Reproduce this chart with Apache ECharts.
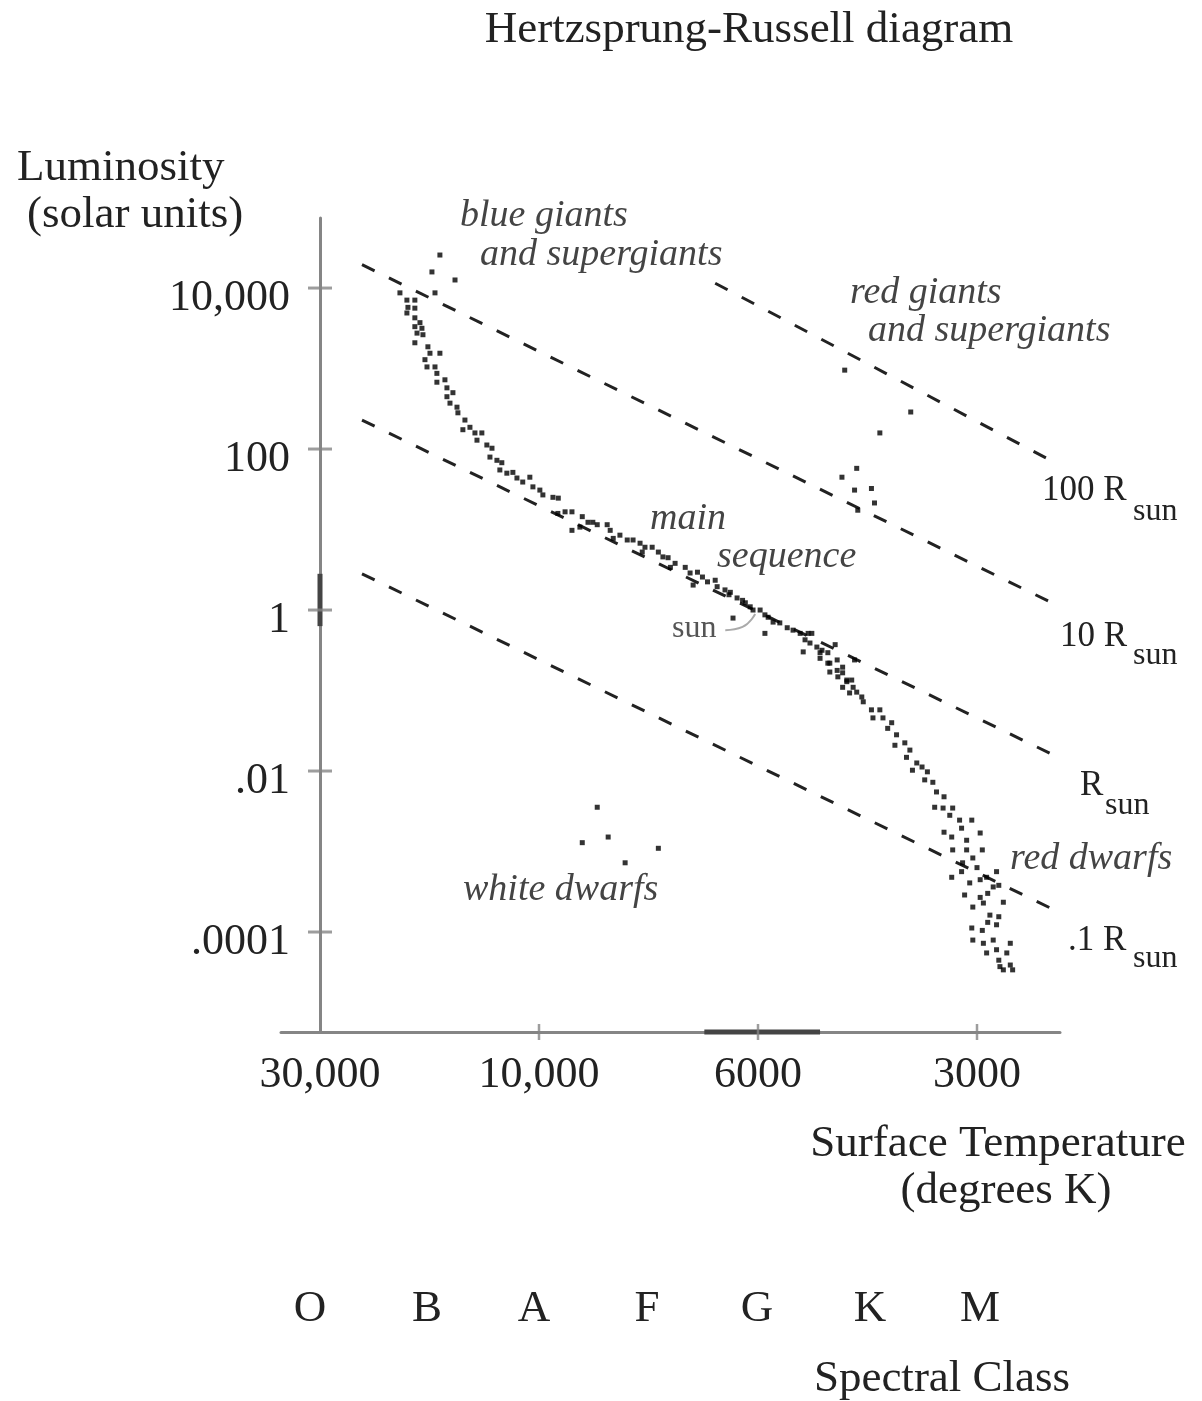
<!DOCTYPE html>
<html><head><meta charset="utf-8">
<script src="https://cdn.jsdelivr.net/npm/echarts@6/dist/echarts.min.js"></script>
<style>html,body{margin:0;padding:0;background:#fff}#c{width:1202px;height:1401px}</style>
</head><body><div id="c"></div>
<script>
// ---- axis ticks ----
const xTickTemps = [30000, 10000, 6000, 3000];
const xTickLabels = ['30,000', '10,000', '6000', '3000'];
const yTickLogLum = [4, 2, 0, -2, -4];
const yTickLabels = ['10,000', '100', '1', '.01', '.0001'];
const spectralClasses = ['O', 'B', 'A', 'F', 'G', 'K', 'M'];

// ---- stars: surface temperature (K) and log10 luminosity (solar units) ----
const mainSeqTemp = [
20090,19400,18640,19300,19400,18640,18640,18170,18640,17990,18440,17900,18640,17460,17280,17720,17540,16850,16440,16690,
16690,16030,15870,15870,15400,15630,15090,15020,14500,14650,14140,13790,13650,13320,12990,12660,12790,12350,12050,12170,
11750,11400,11170,10850,10470,10310,9980,9910,9680,9560,
9570,9410,9260,9260,9040,9090,8920,8820,8730,8530,8470,8410,8280,8140,8030,7900,7860,7810,7680,7570,
7490,7400,7360,7280,7110,7030,6910,6980,6830,6750,6630,6600,6480,6420,6400,6300,6220,6180,6110,6070,
5960,5870,5810,5720,5600,5470,5370,5250,5120,5170,5090,4980,4930,4810,4700,4780,4670,4590,4530,4440,4420,6360,5870,
5060,5200,4900,4930,4810,4670,4590,4780,4660,4530,4460,4590,4390,4490,4320,4300,4190,4080,4170,4040,
3930,3980,3870,3890,3770,3710,3750,3630,3680,3570,3510,3540,3450,3410,3330,3430,3340,3240,3270,3170,
3050,2970,3150,3250,3100,3330,3240,3100,3040,2950,3140,3000,3250,3150,3070,2970,2910,2820,2850,2800,
3120,2970,2900,2760,3040,2940,2880,2800,3050,2950,2900,2820,3040,2940,2850,2700,2910,2820,2730,2700,
2790,2760,2680,2800];
const mainSeqLogLum = [
3.94,3.85,3.85,3.76,3.69,3.75,3.63,3.57,3.52,3.50,3.44,3.42,3.32,3.27,3.19,3.11,3.02,3.02,3.19,2.94,
2.83,2.86,2.76,2.65,2.70,2.57,2.52,2.45,2.36,2.24,2.27,2.20,2.11,2.20,2.05,2.01,1.90,1.86,1.83,1.74,
1.70,1.71,1.64,1.59,1.65,1.53,1.49,1.43,1.40,1.39,
1.20,1.22,1.22,0.99,1.16,1.03,1.09,1.09,1.06,1.06,0.99,0.89,0.93,0.87,0.87,0.83,0.72,0.78,0.78,0.72,
0.66,0.65,0.53,0.58,0.53,0.46,0.47,0.31,0.41,0.35,0.37,0.29,0.25,0.19,0.22,0.15,0.12,0.09,0.04,0.00,
0.00,-0.06,-0.09,-0.15,-0.16,-0.22,-0.25,-0.29,-0.29,-0.37,-0.41,-0.46,-0.53,-0.53,-0.43,-0.66,-0.75,-0.78,-0.87,-0.96,-0.62,-0.10,-0.29,
-0.29,-0.52,-0.50,-0.60,-0.66,-0.62,-0.71,-0.77,-0.83,-0.89,-0.87,-0.96,-1.02,-1.03,-1.08,-1.14,-1.24,-1.24,-1.34,-1.34,
-1.40,-1.47,-1.55,-1.68,-1.65,-1.74,-1.83,-1.90,-1.99,-1.95,-2.01,-2.11,-2.14,-2.26,-2.32,-2.45,-2.46,-2.46,-2.55,-2.61,
-2.61,-2.77,-2.71,-2.82,-2.86,-2.76,-2.98,-2.98,-3.08,-2.98,-3.14,-3.20,-3.32,-3.25,-3.39,-3.35,-3.32,-3.25,-3.44,-3.42,
-3.54,-3.57,-3.52,-3.63,-3.69,-3.64,-3.79,-3.81,-3.95,-3.98,-3.88,-3.91,-4.10,-4.14,-4.10,-4.14,-4.26,-4.22,-4.26,-4.41,
-4.43,-4.47,-4.47,-4.35];
const blueGiantTemp = [16440, 17110, 15240, 16850];
const blueGiantLogLum = [4.41, 4.20, 4.10, 3.94];
const redGiantTemp = [4560, 3700, 4080, 4390, 4600, 4420, 4190, 4150, 4375];
const redGiantLogLum = [2.98, 2.46, 2.20, 1.76, 1.65, 1.49, 1.51, 1.33, 1.24];
const whiteDwarfTemp = [8730, 9040, 8510, 8180, 7570];
const whiteDwarfLogLum = [-2.45, -2.89, -2.82, -3.14, -2.96];

// ---- lines of constant radius ----
const radiusNames = ['100 R', '10 R', 'R', '.1 R'];
const radiusLineTemp = [[6630, 2343], [24300, 2343], [24300, 2307], [24300, 2307]];
const radiusLineLogLum = [[4.06, 1.83], [4.29, 0.07], [2.36, -1.84], [0.45, -3.76]];

// sun marker band on the axes and pointer from the "sun" label
const sunBandTemp = [6800, 4930];
const sunBandLogLum = [0.45, -0.20];
const sunPointerTemp = [6476, 6220, 6040];
const sunPointerLogLum = [-0.25, -0.21, -0.05];

const LG = Math.log10;
function tPos(T) {
  if (T >= 10000) return (LG(30000) - LG(T)) / (LG(30000) - LG(10000));
  if (T >= 6000) return 1 + (LG(10000) - LG(T)) / (LG(10000) - LG(6000));
  return 2 + (LG(6000) - LG(T)) / (LG(6000) - LG(3000));
}
const X_MIN = -0.1781, X_MAX = 3.379, Y_MIN = -5.242, Y_MAX = 4.87;
const pts = (ts, ls) => ts.map((t, i) => [tPos(t), ls[i]]);

const SERIF = '"Liberation Serif", "Times New Roman", serif';
const AX = '#858585';

const starStyle = { type: 'scatter', symbol: 'rect', symbolSize: 5, itemStyle: { color: '#000' }, z: 5, silent: true };

const series = [];
radiusLineTemp.forEach((ts, i) => {
  series.push({
    type: 'line', data: pts(ts, radiusLineLogLum[i]), symbol: 'none', silent: true, clip: false,
    lineStyle: { color: '#222', width: 3, type: [14, 16] }, z: 3
  });
});
series.push(Object.assign({}, starStyle, { data: pts(mainSeqTemp, mainSeqLogLum) }));
series.push(Object.assign({}, starStyle, { data: pts(blueGiantTemp, blueGiantLogLum) }));
series.push(Object.assign({}, starStyle, { data: pts(redGiantTemp, redGiantLogLum) }));
series.push(Object.assign({}, starStyle, { data: pts(whiteDwarfTemp, whiteDwarfLogLum) }));
// sun pointer
series.push({ type: 'line', smooth: true, symbol: 'none', silent: true, data: pts(sunPointerTemp, sunPointerLogLum),
  lineStyle: { color: '#aaa', width: 2 }, z: 4 });
// thick sun bands on axes
series.push({ type: 'line', symbol: 'none', silent: true, clip: false,
  data: [[0, sunBandLogLum[0]], [0, sunBandLogLum[1]]], lineStyle: { color: '#444', width: 5 }, z: 6 });
series.push({ type: 'line', symbol: 'none', silent: true, clip: false,
  data: [[tPos(sunBandTemp[0]), Y_MIN], [tPos(sunBandTemp[1]), Y_MIN]], lineStyle: { color: '#444', width: 5 }, z: 6 });
// crossing tick marks
series.push({ type: 'scatter', symbol: 'rect', symbolSize: [24, 3], silent: true, clip: false, z: 6,
  itemStyle: { color: AX }, data: yTickLogLum.map(v => [0, v]) });
series.push({ type: 'scatter', symbol: 'rect', symbolSize: [2.5, 16], silent: true, clip: false, z: 6,
  itemStyle: { color: AX }, data: xTickTemps.slice(1).map(t => [tPos(t), Y_MIN]) });

function txt(x, y, text, size, opts) {
  opts = opts || {};
  return { type: 'text', x: x, y: y, silent: true, z: 10,
    style: { text: text, fill: opts.fill || '#222', textAlign: opts.align || 'left', textVerticalAlign: 'middle',
      font: (opts.italic ? 'italic ' : '') + size + 'px ' + SERIF } };
}
const specX = [310, 427, 534, 647, 757, 870, 980];
const graphics = [
  txt(749, 30, 'Hertzsprung-Russell diagram', 45, { align: 'center' }),
  txt(17, 168, 'Luminosity', 45),
  txt(27, 215, '(solar units)', 45),
  txt(998, 1144, 'Surface Temperature', 45, { align: 'center' }),
  txt(1006, 1191, '(degrees K)', 45, { align: 'center' }),
  txt(942, 1379, 'Spectral Class', 45, { align: 'center' }),
  txt(460, 216, 'blue giants', 38, { italic: true, fill: '#444' }),
  txt(480, 255, 'and supergiants', 38, { italic: true, fill: '#444' }),
  txt(850, 293, 'red giants', 38, { italic: true, fill: '#444' }),
  txt(868, 331, 'and supergiants', 38, { italic: true, fill: '#444' }),
  txt(650, 519, 'main', 38, { italic: true, fill: '#444' }),
  txt(717, 557, 'sequence', 38, { italic: true, fill: '#444' }),
  txt(463, 890, 'white dwarfs', 38, { italic: true, fill: '#444' }),
  txt(1010, 859, 'red dwarfs', 38, { italic: true, fill: '#444' }),
  txt(672, 629, 'sun', 32, { fill: '#555' }),
  txt(1042, 491, radiusNames[0], 35), txt(1133, 512, 'sun', 32),
  txt(1060, 637, radiusNames[1], 35), txt(1133, 656, 'sun', 32),
  txt(1080, 786, radiusNames[2], 35), txt(1105, 806, 'sun', 32),
  txt(1068, 941, radiusNames[3], 35), txt(1133, 959, 'sun', 32)
];
spectralClasses.forEach((s, i) => graphics.push(txt(specX[i], 1309, s, 45, { align: 'center' })));

const chart = echarts.init(document.getElementById('c'), null, { renderer: 'canvas' });
chart.setOption({
  backgroundColor: '#fff',
  animation: false,
  grid: { left: 281, right: 142, top: 218, bottom: 369, containLabel: false },
  xAxis: {
    type: 'value', min: X_MIN, max: X_MAX,
    axisLine: { show: true, onZero: false, lineStyle: { color: AX, width: 3 } },
    axisTick: { show: false }, splitLine: { show: false },
    axisLabel: {
      customValues: xTickTemps.map(tPos), margin: 21, color: '#222', fontFamily: SERIF, fontSize: 44,
      formatter: v => { let k = 0, d = 1e9; xTickTemps.forEach((t, i) => { const e = Math.abs(tPos(t) - v); if (e < d) { d = e; k = i; } }); return xTickLabels[k]; }
    }
  },
  yAxis: {
    type: 'value', min: Y_MIN, max: Y_MAX,
    axisLine: { show: true, onZero: true, lineStyle: { color: AX, width: 3 } },
    axisTick: { show: false }, splitLine: { show: false },
    axisLabel: {
      customValues: yTickLogLum, margin: -9, color: '#222', fontFamily: SERIF, fontSize: 44,
      formatter: v => { let k = 0, d = 1e9; yTickLogLum.forEach((t, i) => { const e = Math.abs(t - v); if (e < d) { d = e; k = i; } }); return '{t|' + yTickLabels[k] + '}'; },
      rich: { t: { fontFamily: SERIF, fontSize: 44, color: '#222', padding: [20, 0, 0, 0] } }
    }
  },
  graphic: graphics,
  series: series
});
</script>
</body></html>
